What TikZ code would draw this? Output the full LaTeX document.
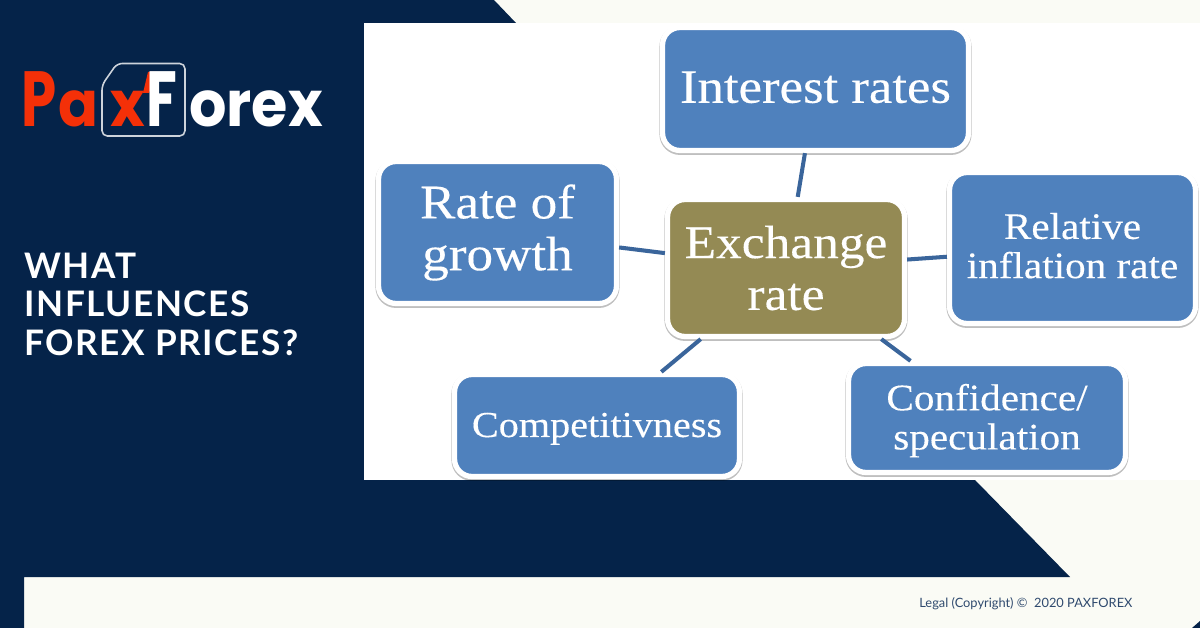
\documentclass[tikz,border=0pt]{standalone}
\usepackage{fontspec}
\setmainfont{Liberation Serif}[FakeStretch=1.1,FakeBold=.25]
\newfontfamily\legalfont{Lato}
\newfontfamily\headfont{Lato}[LetterSpace=4.5]
\newfontfamily\logocaps{Poppins}[FakeStretch=.72]
\newfontfamily\logolower{Poppins}[FakeStretch=.93]
\usetikzlibrary{shadows}
\definecolor{navy}{HTML}{052349}
\definecolor{cream}{HTML}{FAFBF5}
\definecolor{boxblue}{HTML}{4F81BD}
\definecolor{hubgold}{HTML}{948A54}
\definecolor{linkblue}{HTML}{3A659B}
\definecolor{logored}{HTML}{F43008}
\definecolor{legalblue}{HTML}{2F4A6E}
\tikzset{
  keybox/.style={draw=white, line width=3pt, fill=boxblue, rounded corners=10pt, text=white,
    align=center, inner sep=0pt,
    drop shadow={shadow xshift=0pt, shadow yshift=-.8pt, fill=black, draw=black, line width=3.5pt, opacity=.25}},
  link/.style={linkblue, line width=2.3pt},
  logobig/.style={inner sep=0pt, anchor=base west, font=\logocaps\fontsize{44.5}{44.5}\selectfont\bfseries},
  logosmall/.style={inner sep=0pt, anchor=base west, font=\logolower\fontsize{36}{36}\selectfont\bfseries},
  headline/.style={inner sep=0pt, anchor=base west, text=white, font=\headfont\bfseries\fontsize{20}{20}\selectfont},
}
\begin{document}
\begin{tikzpicture}[x=.02cm, y=-.02cm]
\useasboundingbox (0,0) rectangle (1200,628);
\fill[cream] (0,0) rectangle (1200,628);
\fill[navy] (0,0) -- (494,0) -- (516,23) -- (516,480) -- (975,480) -- (1070,577) -- (24,577) -- (24,628) -- (0,628) -- cycle;
\fill[navy] (1200,621) -- (1200,628) -- (1192,628) -- cycle;
\fill[white] (364,23) rectangle (1200,480);
% chart
\begin{scope}
\clip (364,23) rectangle (1200,480);
\node[keybox, minimum width=6.12cm, minimum height=2.46cm, font=\fontsize{27.3}{27.3}\selectfont] (interest) at (815.5,89) {Interest rates\rule[-2.2pt]{0pt}{2.2pt}};
\node[keybox, minimum width=4.76cm, minimum height=2.84cm, font=\fontsize{27.5}{29.5}\selectfont] (growth) at (497.5,232.5) {Rate of\\growth};
\node[keybox, minimum width=4.92cm, minimum height=3.02cm, font=\fontsize{21.3}{22.3}\selectfont] (inflation) at (1072.5,248) {Relative\\inflation rate\rule[-2.8pt]{0pt}{2.8pt}};
\node[keybox, minimum width=5.70cm, minimum height=2.04cm, font=\fontsize{20.8}{20.8}\selectfont] (compet) at (597,425.5) {\rule{0pt}{17.5pt}Competitivness};
\node[keybox, minimum width=5.54cm, minimum height=2.18cm, font=\fontsize{21.3}{22.3}\selectfont] (confid) at (987,418) {\rule{0pt}{18pt}Confidence/\\speculation};
\node[keybox, fill=hubgold, minimum width=4.74cm, minimum height=2.74cm, font=\fontsize{26.6}{29.5}\selectfont] (hub) at (786,268) {Exchange\\rate};
\draw[link] (hub) -- (interest);
\draw[link] (hub) -- (growth);
\draw[link] (hub) -- (inflation);
\draw[link] (hub) -- (compet);
\draw[link] (hub) -- (confid);
\end{scope}
% logo
\draw[white!80!navy, line width=.9pt, rounded corners=3pt] (102,85) -- (102,136) -- (185,136) -- (185,63.5) -- (117,63.5) -- cycle;
\node[logobig, text=logored] (logop) at (21,127) {P};
\node[logosmall, text=logored] (logoa) at (58,127) {a};
\node[logosmall, text=logored] (logox) at (110,127) {x};
\fill[logored] (148,72) -- (157,72) -- (149,93) -- (143,93) -- cycle;
\node[logobig, text=white] (logof) at (146,127) {F};
\node[logosmall, text=white] (logoorex) at (189,127) {orex};
% title
\node[headline] (title1) at (24,278) {WHAT};
\node[headline] (title2) at (24,316.5) {INFLUENCES};
\node[headline] (title3) at (24,355) {FOREX PRICES?};
\node[inner sep=0pt, anchor=base west, text=legalblue, font=\legalfont\fontsize{7.3}{7.3}\selectfont] (legal) at (919,607) {Legal (Copyright) \textcopyright{}\ \ 2020 PAXFOREX};
\end{tikzpicture}
\end{document}
